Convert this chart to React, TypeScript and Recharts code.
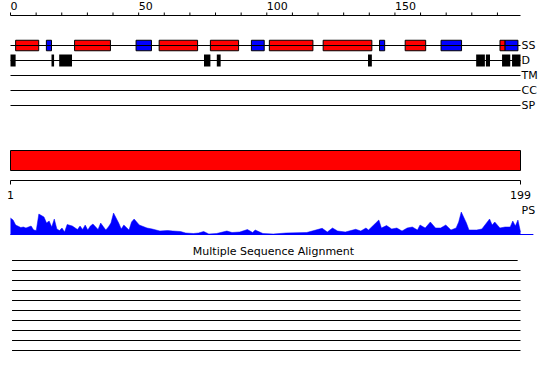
import { ComposedChart, AreaChart, Area, Line, XAxis, YAxis, ReferenceArea, ReferenceLine, Label } from 'recharts'

// sequence length and track rows
const SEQ_START = 1
const SEQ_END = 199
const trackNames = ['SS', 'D', 'TM', 'CC', 'SP']
const topTicks = [0, 10, 20, 30, 40, 50, 60, 70, 80, 90, 100, 110, 120, 130, 140, 150, 160, 170, 180, 190]
const bottomTicks = [1, 199]

// secondary structure: helix (red) and strand (blue) segments, [start, end]
const helixSegments = [[2, 11], [25, 39], [58, 73], [78, 89], [101, 118], [122, 141], [154, 162], [191, 193]]
const strandSegments = [[14, 16], [49, 55], [94, 99], [144, 146], [168, 176], [193, 198]]

// disorder segments (black)
const disorderSegments = [[0, 2], [16, 17], [19, 24], [75.5, 78], [80.5, 82], [139.5, 141], [181.7, 185.1], [185.5, 187.1], [191.8, 195], [195.7, 199]]

// domain bar covering the whole sequence
const domainSegments = [[1, 199]]

// PS profile
const psPositions = [1, 2, 3, 5, 6, 7, 9, 10, 11, 12, 14, 15, 16, 17, 18, 19, 20, 21, 22, 23, 25, 27, 28, 29, 30, 31, 32, 33, 35, 36, 38, 39, 40, 41, 43, 44, 45, 47, 48, 49, 51, 54, 56, 59, 62, 64, 67, 69, 72, 74, 76, 78, 81, 85, 87, 90, 93, 95, 96, 99, 103, 108, 116, 122, 124, 126, 128, 131, 135, 137, 139, 140, 142, 144, 145, 147, 149, 151, 153, 155, 157, 159, 160, 162, 164, 166, 168, 170, 172, 174, 175, 176, 178, 179, 182, 184, 187, 188, 189, 191, 193, 195, 196, 197, 198, 199]
const psScores = [17, 15, 10, 7.5, 8, 7, 9, 5, 4.5, 21, 18, 12, 14, 8, 16, 6, 4.5, 7, 3, 10.5, 9, 5.5, 9, 5.5, 10, 5, 9, 11, 5.5, 12, 5, 8, 12, 22, 12, 6, 10, 5, 13, 16, 10, 7, 6, 4, 4.5, 4, 3.5, 2, 1.5, 2, 3.5, 1, 1.5, 4, 2.5, 3, 5.5, 2.5, 5, 1.5, 1, 2, 2.5, 6.7, 3, 7, 4, 3, 5.7, 4, 7, 5, 10, 15, 7, 9.5, 6, 7, 4, 7, 8, 5, 10, 7, 13, 7, 7, 10, 5, 7, 13, 23, 12, 5, 5, 6, 16, 10, 13, 7, 8, 8, 14, 9, 15, 3]

// multiple sequence alignment rows (empty)
const msaStarts = [1.6, 1.6, 1.6, 1.6, 1.6, 1.6, 1.6, 1.6, 1.6, 1.6]
const msaEnds = [197.9, 199, 199, 199, 199, 199, 199, 199, 199, 199]

const psData = psPositions.map((pos, i) => ({ pos, score: psScores[i] }))
const extentData = [{ pos: 0 }, { pos: SEQ_END }]

const FONT = '"DejaVu Sans", sans-serif'
const RED = '#ff0000'
const BLUE = '#0000ff'

const TopTick = ({ x, y, payload }: any) => (
  <text x={x} y={y} textAnchor="start" fontSize={11} fill="#000" fontFamily={FONT}>
    {payload.value % 50 === 0 ? payload.value : ''}
  </text>
)

const BottomTick = ({ x, y, payload }: any) => (
  <text x={x} y={y + 12} textAnchor="middle" fontSize={11} fill="#000" fontFamily={FONT}>
    {payload.value}
  </text>
)

const rowLabel = (name: string) => ({ value: name, position: 'right' as const, offset: 1, fill: '#000', fontSize: 11, fontFamily: FONT })

export default function App() {
  const margin = { left: 10.5, right: 29.5 }
  const layer = { position: 'absolute' as const, left: 0, top: 0 }
  return (
    <div style={{ position: 'absolute', left: 0, top: 0, width: 550, height: 380, background: '#fff', fontFamily: FONT }}>
      {/* feature tracks */}
      <div style={layer}>
        <ComposedChart width={550} height={115} data={extentData} margin={{ ...margin, top: 0, bottom: 2 }}>
          <XAxis
            type="number"
            dataKey="pos"
            orientation="top"
            domain={[0, SEQ_END]}
            ticks={topTicks}
            interval={0}
            height={15.5}
            tickSize={3}
            tickMargin={3}
            tick={<TopTick />}
            stroke="#000"
          />
          <YAxis type="number" domain={[-2, 4.5]} reversed hide />
          {trackNames.map((name, i) => (
            <Line
              key={name}
              data={[{ pos: 0, row: i }, { pos: SEQ_END, row: i }]}
              dataKey="row"
              stroke="#000"
              strokeWidth={1}
              dot={false}
              isAnimationActive={false}
            />
          ))}
          {trackNames.map((name, i) => (
            <ReferenceLine key={`lbl-${name}`} y={i} stroke="none" label={rowLabel(name)} />
          ))}
          {helixSegments.map(([s, e], i) => (
            <ReferenceArea key={`h-${i}`} x1={s} x2={e} y1={-0.35} y2={0.35} fill={RED} fillOpacity={1} stroke="#000" strokeWidth={1} ifOverflow="visible" />
          ))}
          {strandSegments.map(([s, e], i) => (
            <ReferenceArea key={`s-${i}`} x1={s} x2={e} y1={-0.35} y2={0.35} fill={BLUE} fillOpacity={1} stroke="#000" strokeWidth={1} ifOverflow="visible" />
          ))}
          {disorderSegments.map(([s, e], i) => (
            <ReferenceArea key={`d-${i}`} x1={s} x2={e} y1={0.6} y2={1.4} fill="#000" fillOpacity={1} stroke="none" ifOverflow="visible" />
          ))}
        </ComposedChart>
      </div>

      {/* domain bar with residue axis */}
      <div style={layer}>
        <ComposedChart
          width={550}
          height={205}
          data={[{ pos: SEQ_START, mid: 2 }, { pos: SEQ_END, mid: 2 }]}
          margin={{ ...margin, top: 150.5, bottom: 0 }}
        >
          <XAxis
            type="number"
            dataKey="pos"
            domain={[SEQ_START, SEQ_END]}
            ticks={bottomTicks}
            interval={0}
            height={24.5}
            tickSize={4}
            tickMargin={2}
            tick={<BottomTick />}
            stroke="#000"
          />
          <YAxis type="number" domain={[0, 3]} hide />
          <Line dataKey="mid" stroke="none" dot={false} isAnimationActive={false} />
          {domainSegments.map(([s, e], i) => (
            <ReferenceArea key={`dom-${i}`} x1={s} x2={e} y1={1} y2={3} fill={RED} fillOpacity={1} stroke="#000" strokeWidth={1} ifOverflow="visible" />
          ))}
        </ComposedChart>
      </div>

      {/* PS profile */}
      <div style={layer}>
        <AreaChart width={550} height={235} data={psData} margin={{ ...margin, top: 210, bottom: 0 }}>
          <XAxis type="number" dataKey="pos" domain={[SEQ_START, SEQ_END]} hide />
          <YAxis type="number" domain={[0, 25]} hide />
          <Area type="linear" dataKey="score" stroke={BLUE} strokeWidth={0.5} fill={BLUE} fillOpacity={1} isAnimationActive={false} />
          <ReferenceLine
            segment={[{ x: SEQ_START, y: 0 }, { x: 204, y: 0 }]}
            stroke={BLUE}
            strokeWidth={2}
            ifOverflow="visible"
          />
          <ReferenceLine y={25} stroke="none" label={rowLabel('PS')} />
        </AreaChart>
      </div>

      {/* multiple sequence alignment */}
      <div style={layer}>
        <ComposedChart width={550} height={355} data={extentData} margin={{ ...margin, top: 250.5, bottom: 0 }}>
          <XAxis type="number" dataKey="pos" domain={[SEQ_START, SEQ_END]} hide />
          <YAxis type="number" domain={[0, 10.45]} reversed hide />
          {msaStarts.map((s, i) => (
            <Line
              key={`msa-${i}`}
              data={[{ pos: s, row: i + 1 }, { pos: msaEnds[i], row: i + 1 }]}
              dataKey="row"
              stroke="#000"
              strokeWidth={1}
              dot={false}
              isAnimationActive={false}
            />
          ))}
          <ReferenceLine y={0} stroke="none">
            <Label
              content={({ viewBox }: any) => (
                <text x={viewBox.x + viewBox.width / 2 + 8} y={viewBox.y + 4} textAnchor="middle" fontSize={11} fill="#000" fontFamily={FONT}>
                  Multiple Sequence Alignment
                </text>
              )}
            />
          </ReferenceLine>
        </ComposedChart>
      </div>
    </div>
  )
}
